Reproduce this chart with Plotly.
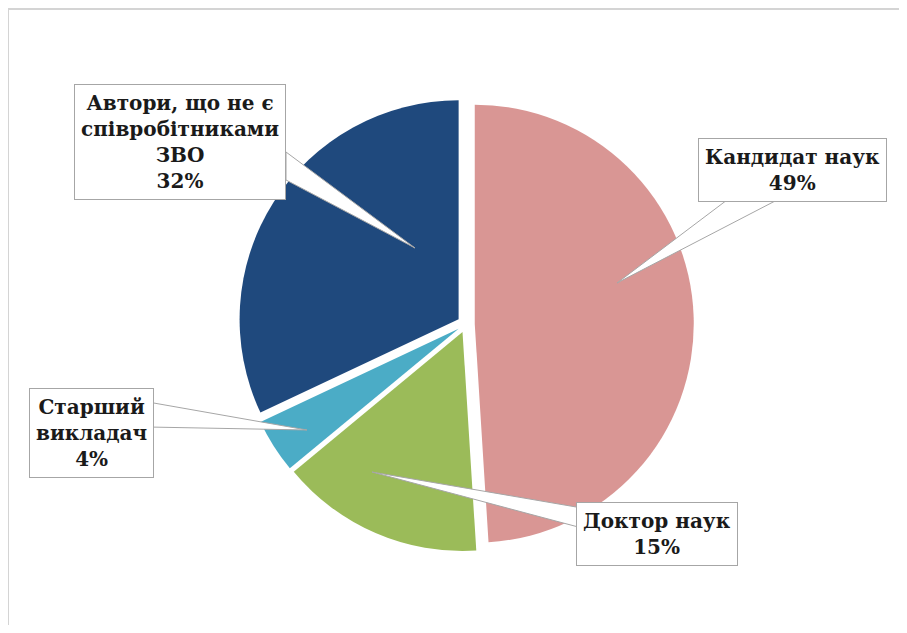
import plotly.graph_objects as go

# ---- data ----
categories = ["Кандидат наук", "Доктор наук", "Старший<br>викладач",
              "Автори, що не є<br>співробітниками<br>ЗВО"]
values = [49, 15, 4, 32]
colors = ["#D99694", "#9BBB59", "#4BACC6", "#1F497D"]

# page is offset by the 8px body margin -> figure slightly smaller
OFF = 8
W, H = 907 - 2 * OFF, 633 - 2 * OFF


def px(x):
    return (x - OFF) / W


def py(y):
    return 1 - (y - OFF) / H


# pie geometry in page pixels
CX, CY, R, PULL = 466, 324, 219, 0.04
half = R * (1 + PULL)
dom_x = [px(CX - half), px(CX + half)]
dom_y = [py(CY + half), py(CY - half)]

fig = go.Figure()
fig.add_trace(go.Pie(
    labels=categories,
    values=values,
    sort=False,
    direction="clockwise",
    rotation=0,
    pull=[PULL] * len(values),
    marker=dict(colors=colors, line=dict(width=0)),
    textinfo="none",
    hoverinfo="label+percent",
    showlegend=False,
    domain=dict(x=dom_x, y=dom_y),
))

# callout layout: box centre, wedge base points, wedge tip (page pixels)
callouts = [
    dict(center=(792, 170), base=[(727, 200), (777, 200)], tip=(617, 283)),
    dict(center=(657, 534), base=[(582, 508), (582, 528)], tip=(372, 472)),
    dict(center=(91, 433), base=[(148, 402), (148, 427)], tip=(307, 430)),
    dict(center=(180, 142), base=[(286, 152), (286, 180)], tip=(415, 248)),
]

total = sum(values)
shapes = []
annotations = []
for cat, val, co in zip(categories, values, callouts):
    (x1, y1), (x2, y2) = co["base"]
    tx, ty = co["tip"]
    path = (f"M {px(x1)} {py(y1)} L {px(tx)} {py(ty)} "
            f"L {px(x2)} {py(y2)} Z")
    shapes.append(dict(type="path", xref="paper", yref="paper", path=path,
                       fillcolor="white", line=dict(color="#A6A6A6", width=1),
                       layer="above"))
    cx, cy = co["center"]
    annotations.append(dict(
        x=px(cx), y=py(cy), xref="paper", yref="paper",
        xanchor="center", yanchor="middle", showarrow=False,
        text=f"<b>{cat}<br>{round(val / total * 100)}%</b>",
        font=dict(family="DejaVu Serif", size=20, color="#1A1A1A"),
        align="center", bgcolor="white", bordercolor="#A6A6A6",
        borderwidth=1, borderpad=6,
    ))

# outer frame (top and left edges visible)
shapes.append(dict(type="line", xref="paper", yref="paper",
                   x0=px(8), y0=py(9), x1=1, y1=py(9),
                   line=dict(color="#D4D4D4", width=2)))
shapes.append(dict(type="line", xref="paper", yref="paper",
                   x0=px(8), y0=py(9), x1=px(8), y1=0,
                   line=dict(color="#D4D4D4", width=2)))

fig.update_layout(
    width=W, height=H,
    margin=dict(l=0, r=0, t=0, b=0),
    paper_bgcolor="white", plot_bgcolor="white",
    shapes=shapes, annotations=annotations,
)

fig.write_html("out.html")
